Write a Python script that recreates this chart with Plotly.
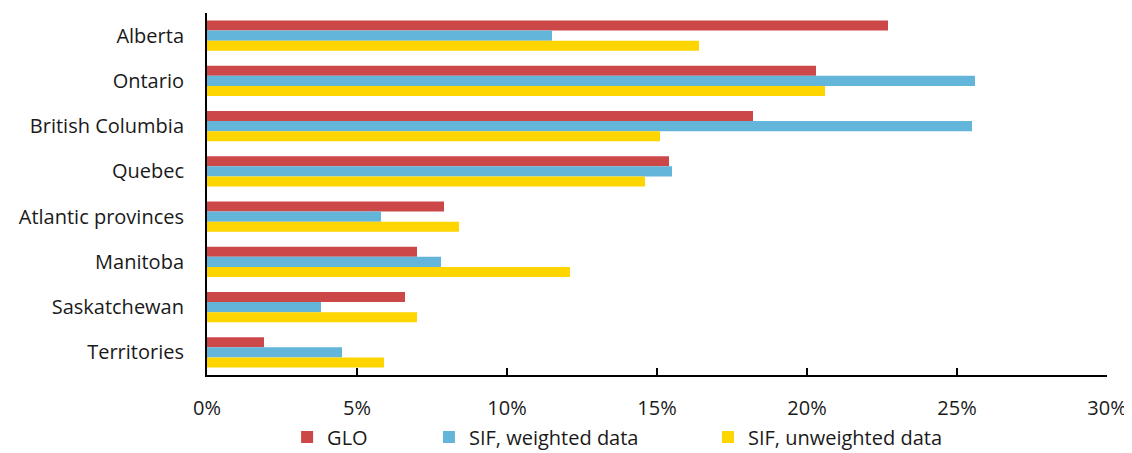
import plotly.graph_objects as go

categories = ["Alberta", "Ontario", "British Columbia", "Quebec", "Atlantic provinces",
              "Manitoba", "Saskatchewan", "Territories"]
glo = [22.7, 20.3, 18.2, 15.4, 7.9, 7.0, 6.6, 1.9]
sif_weighted = [11.5, 25.6, 25.5, 15.5, 5.8, 7.8, 3.8, 4.5]
sif_unweighted = [16.4, 20.6, 15.1, 14.6, 8.4, 12.1, 7.0, 5.9]
tick_vals = [0, 5, 10, 15, 20, 25, 30]
tick_text = ["0%", "5%", "10%", "15%", "20%", "25%", "30%"]

FONT = "Open Sans, Liberation Sans, sans-serif"
FS = 20

fig = go.Figure()
fig.add_trace(go.Bar(y=categories, x=glo, name="GLO", orientation="h",
                     marker=dict(color="#CC4748", line=dict(width=0)), legend="legend"))
fig.add_trace(go.Bar(y=categories, x=sif_weighted, name="SIF, weighted data", orientation="h",
                     marker=dict(color="#63B5DA", line=dict(width=0)), legend="legend2"))
fig.add_trace(go.Bar(y=categories, x=sif_unweighted, name="SIF, unweighted data", orientation="h",
                     marker=dict(color="#FFD500", line=dict(width=0)), legend="legend3"))

leg_common = dict(orientation="h", yanchor="middle", yref="container", y=0.036,
                  xanchor="left",
                  font=dict(family=FONT, size=FS, color="#1a1a1a"), bgcolor="rgba(0,0,0,0)",
                  itemwidth=30, visible=True)
fig.update_layout(
    width=1124, height=445,
    margin=dict(l=199, r=25, t=5, b=78),
    plot_bgcolor="white", paper_bgcolor="white",
    showlegend=True,
    barmode="group", bargap=0.33, bargroupgap=0,
    font=dict(family=FONT, size=FS, color="#1a1a1a"),
    legend=dict(x=0.089, **leg_common),
    legend2=dict(x=0.2466, **leg_common),
    legend3=dict(x=0.5566, **leg_common),
    xaxis=dict(range=[0, 30], tickvals=tick_vals, ticktext=tick_text,
               ticks="inside", ticklen=7, tickcolor="black", tickwidth=2,
               showline=True, linecolor="black", linewidth=2, showgrid=False,
               zeroline=False, ticklabelstandoff=14, automargin=False,
               tickfont=dict(family=FONT, size=FS, color="#1a1a1a")),
    yaxis=dict(autorange="reversed", showline=True, linecolor="black", linewidth=2,
               showgrid=False, ticks="", ticklabelstandoff=17, automargin=False,
               tickfont=dict(family=FONT, size=FS, color="#1a1a1a")),
)

fig.write_html("out.html")
